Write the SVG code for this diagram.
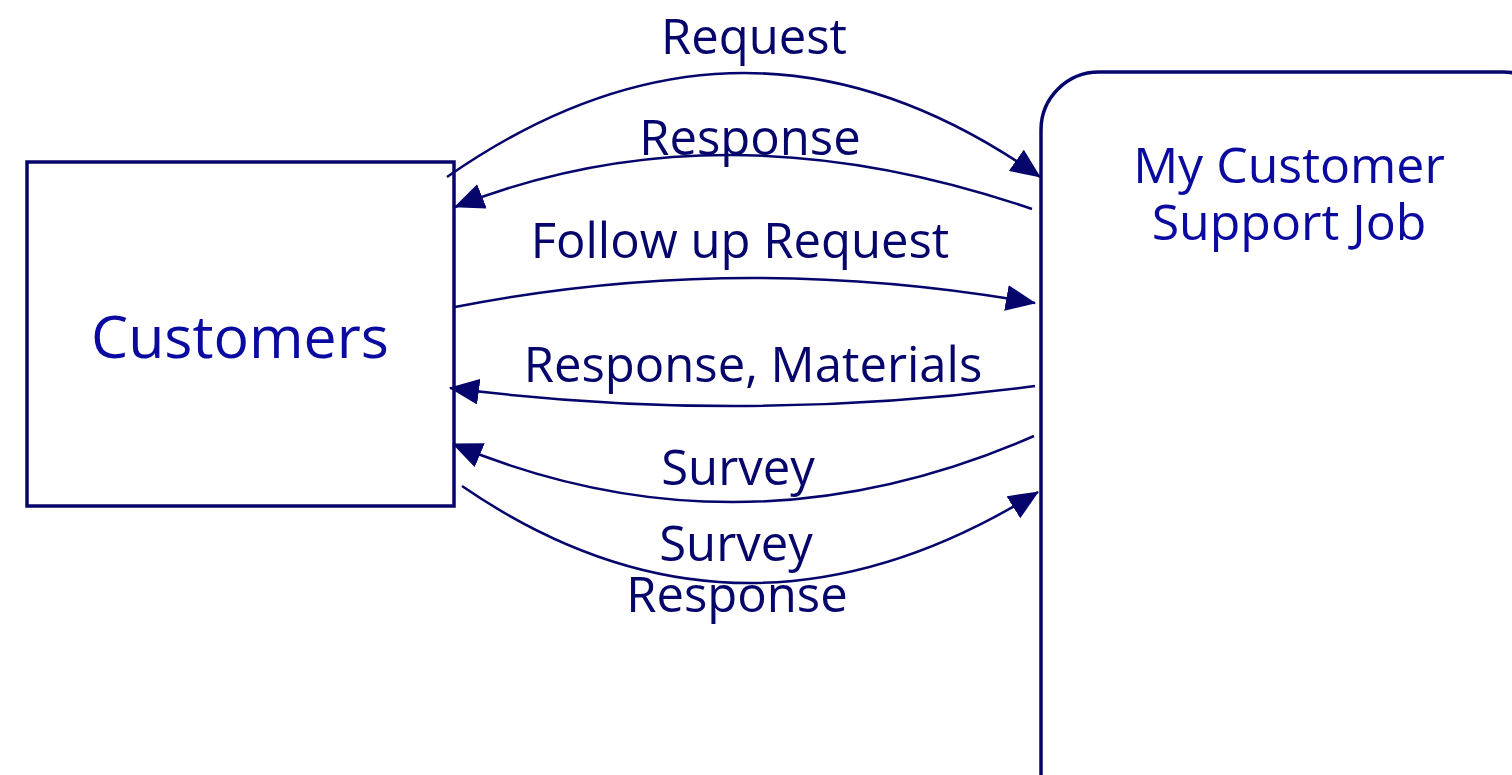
<svg xmlns="http://www.w3.org/2000/svg" width="1512" height="775" viewBox="0 0 1512 775">
<defs>
<marker id="ah" markerWidth="30" markerHeight="26" refX="29" refY="13" orient="auto" markerUnits="userSpaceOnUse">
<path d="M0,0 L30,13 L0,26 Z" fill="#05056b"/>
</marker>
<style>
.node{fill:#fff;stroke:#05056b;stroke-width:3.5}
.conn{fill:none;stroke:#05056b;stroke-width:2.5;marker-end:url(#ah)}
.lbl{font-family:"Open Sans","Noto Sans",sans-serif;font-size:49px;fill:#05056b;text-anchor:middle}
.ntxt{font-family:"Open Sans","Noto Sans",sans-serif;fill:#0a0aa0;text-anchor:middle}
</style>
</defs>
<rect width="1512" height="775" fill="#fff"/>
<g id="customers">
<rect class="node" x="27" y="162" width="427" height="344"/>
<text class="ntxt" x="240" y="358" font-size="59">Customers</text>
</g>
<g id="job">
<rect class="node" x="1041" y="72" width="520" height="760" rx="58" ry="58"/>
<text class="ntxt" x="1289" y="183" font-size="50">My Customer</text>
<text class="ntxt" x="1289" y="240" font-size="50">Support Job</text>
</g>
<g id="connectors">
<path class="conn" d="M447,177 Q745,-31 1040,177"/>
<path class="conn" d="M1032,209 Q720,102 455,207"/>
<path class="conn" d="M455,307 Q740,251 1035,303"/>
<path class="conn" d="M1035,386 Q740,425 450,388"/>
<path class="conn" d="M1034,436 Q740,564 453,444"/>
<path class="conn" d="M462,486 Q740,677 1038,492"/>
</g>
<g id="labels">
<text class="lbl" x="754" y="54">Request</text>
<text class="lbl" x="750" y="155">Response</text>
<text class="lbl" x="740" y="258">Follow up Request</text>
<text class="lbl" x="753" y="382">Response, Materials</text>
<text class="lbl" x="738" y="485">Survey</text>
<text class="lbl" x="736" y="561">Survey</text>
<text class="lbl" x="737" y="612">Response</text>
</g>
</svg>
